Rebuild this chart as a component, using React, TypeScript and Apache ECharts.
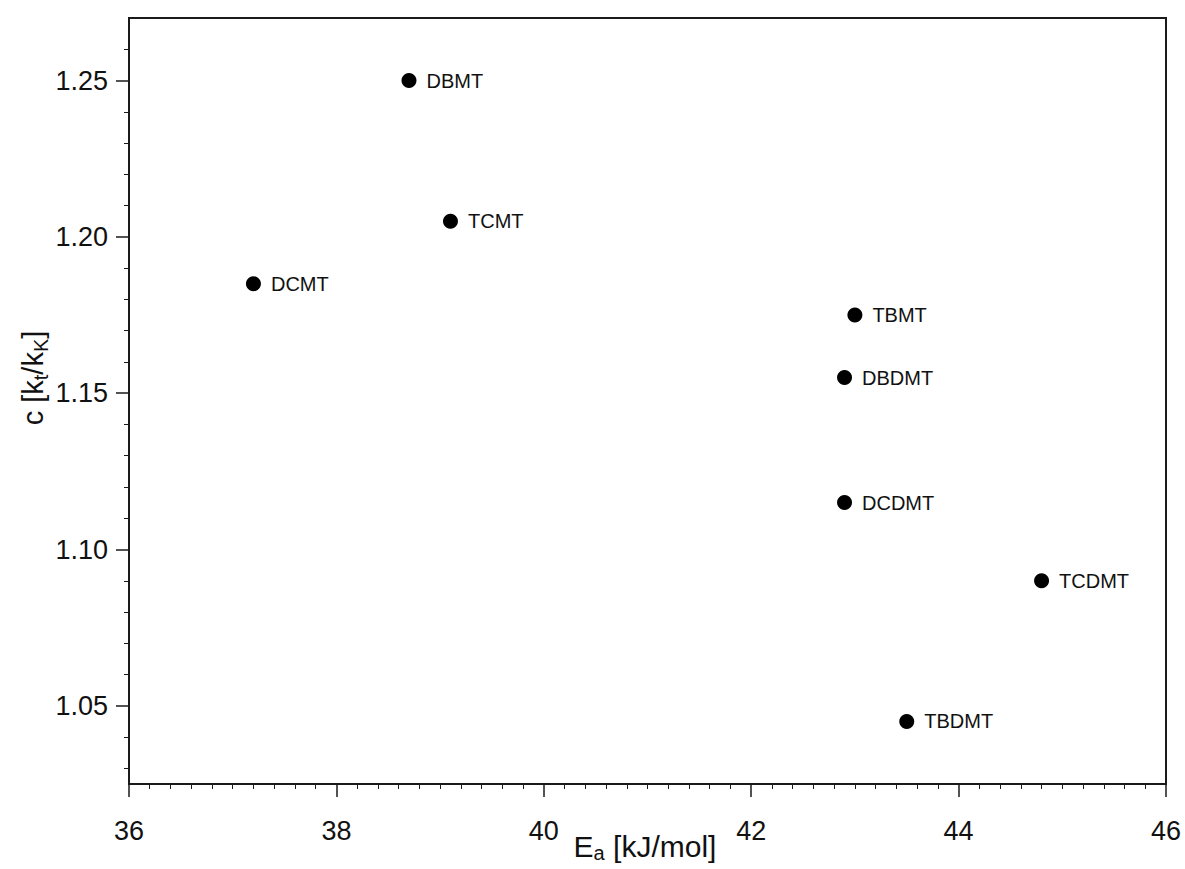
import React, { useEffect, useRef } from "react";
import * as echarts from "echarts";

const names = ["DBMT", "TCMT", "DCMT", "TBMT", "DBDMT", "DCDMT", "TCDMT", "TBDMT"];
const eaValues = [38.7, 39.1, 37.2, 43.0, 42.9, 42.9, 44.8, 43.5];
const cValues = [1.25, 1.205, 1.185, 1.175, 1.155, 1.115, 1.09, 1.045];

const yMajorTicks = [1.05, 1.1, 1.15, 1.2, 1.25];
const yMinorTicks = [1.03, 1.04, 1.06, 1.07, 1.08, 1.09, 1.11, 1.12, 1.13, 1.14, 1.16, 1.17, 1.18, 1.19, 1.21, 1.22, 1.23, 1.24, 1.26];

const FONT = "'Liberation Sans', Arial, sans-serif";
const AXIS_COLOR = "#1a1a1a";

export default function App() {
  const ref = useRef<HTMLDivElement>(null);

  useEffect(() => {
    if (!ref.current) return;
    const chart = echarts.init(ref.current, undefined, { renderer: "svg" });
    const data = names.map((n, i) => [eaValues[i], cValues[i], n]);

    chart.setOption({
      animation: false,
      backgroundColor: "#ffffff",
      textStyle: { fontFamily: FONT },
      grid: {
        left: 129,
        top: 18,
        right: 19,
        bottom: 85,
        show: true,
        borderColor: AXIS_COLOR,
        borderWidth: 2,
        backgroundColor: "transparent",
      },
      xAxis: {
        type: "value",
        min: 36,
        max: 46,
        interval: 2,
        axisLine: { show: true, lineStyle: { color: AXIS_COLOR, width: 2 } },
        axisTick: { show: true, length: 13, inside: false, lineStyle: { color: AXIS_COLOR, width: 1.5 } },
        minorTick: { show: true, splitNumber: 10, length: 5, lineStyle: { color: AXIS_COLOR, width: 1 } },
        splitLine: { show: false },
        minorSplitLine: { show: false },
        axisLabel: { fontSize: 27, color: "#111", margin: 33, fontFamily: FONT },
      },
      yAxis: [
        {
          type: "value",
          min: 1.025,
          max: 1.27,
          position: "left",
          axisLine: { show: true, lineStyle: { color: AXIS_COLOR, width: 2 } },
          axisTick: {
            show: true,
            length: 13,
            customValues: yMajorTicks,
            lineStyle: { color: AXIS_COLOR, width: 1.5 },
          },
          axisLabel: {
            fontSize: 27,
            color: "#111",
            margin: 21,
            fontFamily: FONT,
            customValues: yMajorTicks,
            formatter: (v: number) => v.toFixed(2),
          },
          splitLine: { show: false },
        },
        {
          type: "value",
          min: 1.025,
          max: 1.27,
          position: "left",
          axisLine: { show: false },
          axisTick: {
            show: true,
            length: 5,
            customValues: yMinorTicks,
            lineStyle: { color: AXIS_COLOR, width: 1 },
          },
          axisLabel: { show: false, customValues: yMinorTicks },
          splitLine: { show: false },
        },
      ],
      graphic: [
        {
          type: "text",
          x: 645,
          y: 829,
          style: {
            text: "{n|E}{s|a}{n| [kJ/mol]}",
            textAlign: "center",
            textVerticalAlign: "top",
            fill: "#111",
            rich: {
              n: { fontSize: 30, lineHeight: 34, fontFamily: FONT, fill: "#111", verticalAlign: "middle" },
              s: { fontSize: 20, lineHeight: 20, fontFamily: FONT, fill: "#111", verticalAlign: "bottom" },
            },
          },
        },
        {
          type: "text",
          x: 33,
          y: 378,
          rotation: Math.PI / 2,
          style: {
            text: "{n|c [k}{s|t}{n|/k}{s|K}{n|]}",
            textAlign: "center",
            textVerticalAlign: "middle",
            fill: "#111",
            rich: {
              n: { fontSize: 29, lineHeight: 36, fontFamily: FONT, fill: "#111", verticalAlign: "middle" },
              s: { fontSize: 20, lineHeight: 20, fontFamily: FONT, fill: "#111", verticalAlign: "bottom" },
            },
          },
        },
      ],
      series: [
        {
          type: "scatter",
          xAxisIndex: 0,
          yAxisIndex: 0,
          data,
          symbol: "circle",
          symbolSize: 15,
          itemStyle: { color: "#000000", opacity: 1 },
          label: {
            show: true,
            position: "right",
            distance: 10,
            formatter: (p: any) => p.data[2],
            fontSize: 20,
            color: "#111",
            fontFamily: FONT,
          },
        },
      ],
    });

    return () => chart.dispose();
  }, []);

  return (
    <div
      ref={ref}
      style={{ position: "fixed", left: 0, top: 0, width: 1185, height: 869 }}
    />
  );
}
